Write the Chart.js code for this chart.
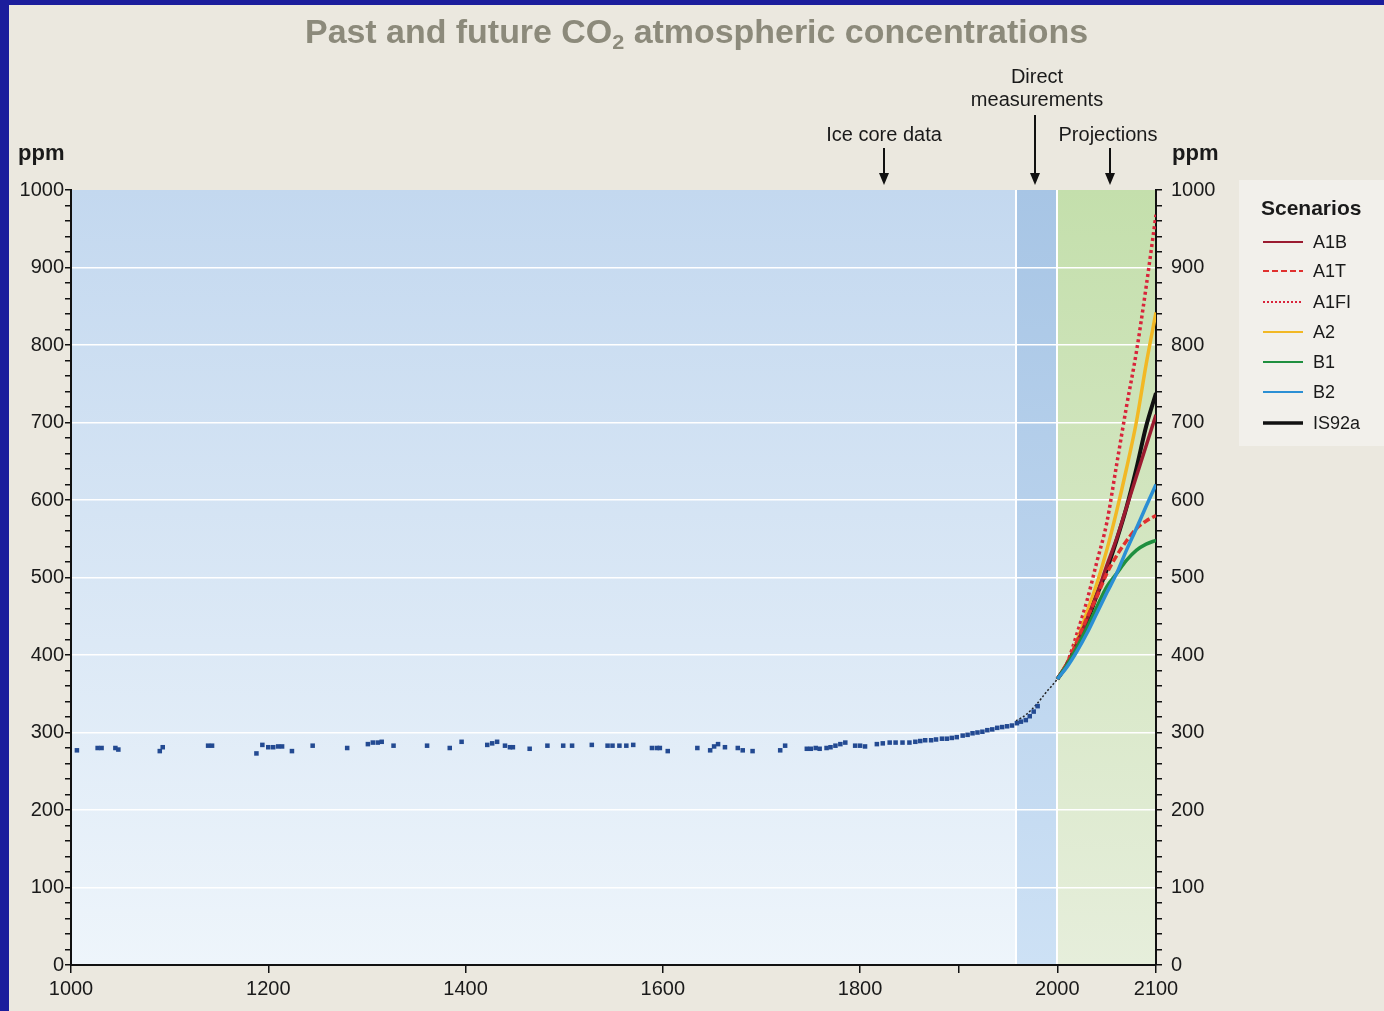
<!DOCTYPE html>
<html>
<head>
<meta charset="utf-8">
<title>Past and future CO2 atmospheric concentrations</title>
<script src="https://cdn.jsdelivr.net/npm/chart.js@4.4.1/dist/chart.umd.min.js"></script>
<style>
  html, body { margin: 0; padding: 0; background: #1b1d9c; overflow: hidden; }
  canvas { display: block; }
</style>
</head>
<body>
<canvas id="co2Chart" width="1384" height="1011"></canvas>
<script>
// ice core samples (year, ppm)
const iceYears = [1006, 1027, 1031, 1045, 1048, 1090, 1093, 1139, 1143, 1188, 1194, 1200, 1205, 1210, 1214, 1224,
  1245, 1280, 1301, 1306, 1311, 1315, 1327, 1361, 1384, 1396, 1422, 1427, 1432, 1440, 1445, 1448, 1465, 1483,
  1499, 1508, 1528, 1544, 1549, 1556, 1563, 1570, 1589, 1594, 1597, 1605, 1635, 1648, 1652, 1656, 1663, 1676,
  1681, 1691, 1719, 1724, 1746, 1750, 1755, 1759, 1766, 1770, 1775, 1780, 1785, 1795, 1800, 1805, 1817, 1823,
  1830, 1836, 1843, 1850, 1856, 1861, 1866, 1872, 1877, 1883, 1888, 1893, 1898, 1904, 1909, 1914, 1919, 1924,
  1929, 1934, 1939, 1944, 1949, 1954, 1959, 1963, 1968, 1972, 1976, 1980];
const icePpm = [277, 280, 280, 280, 278, 276, 281, 283, 283, 273, 284, 281, 281, 282, 282, 276,
  283, 280, 285, 287, 287, 288, 283, 283, 280, 288, 284, 286, 288, 283, 281, 281, 279, 283,
  283, 283, 284, 283, 283, 283, 283, 284, 280, 280, 280, 276, 280, 277, 282, 285, 281, 280,
  277, 276, 277, 283, 279, 279, 280, 279, 280, 281, 283, 285, 287, 283, 283, 282, 285, 286,
  287, 287, 287, 287, 288, 289, 290, 290, 291, 292, 292, 293, 294, 296, 297, 299, 300, 301,
  303, 304, 306, 307, 308, 309, 312, 314, 316, 321, 327, 334];

// direct measurements
const directYears = [1958, 1965, 1970, 1975, 1980, 1985, 1990, 1995, 2000];
const directPpm = [315, 320, 325, 331, 338, 346, 354, 361, 369];

// scenario projections
const projYears = [2000, 2010, 2020, 2030, 2040, 2050, 2060, 2070, 2080, 2090, 2100];
const a1b   = [369, 389, 415, 446, 478, 515, 550, 590, 630, 670, 710];
const a1t   = [369, 390, 418, 448, 475, 505, 528, 547, 563, 573, 580];
const a1fi  = [369, 390, 428, 470, 520, 570, 645, 720, 790, 875, 968];
const a2    = [369, 388, 418, 455, 492, 535, 585, 640, 700, 775, 842];
const b1    = [369, 388, 410, 435, 462, 488, 505, 522, 535, 543, 548];
const b2    = [369, 385, 405, 428, 454, 480, 505, 535, 563, 592, 620];
const is92a = [369, 388, 414, 443, 477, 510, 548, 590, 640, 695, 738];

// axis ticks
const xTicks = [1000, 1200, 1400, 1600, 1800, 1900, 2000, 2100];
const yMax = 1000;

const FONT = "'Liberation Sans', Arial, sans-serif";

const toPoints = (xs, ys) => xs.map((x, i) => ({ x: x, y: ys[i] }));

// shaded periods behind the data
const bands = [
  { from: 1000, to: 1958, top: '#c3d8ef', bottom: '#eef5fb' },
  { from: 1958, to: 2000, top: '#a7c5e5', bottom: '#cde1f5' },
  { from: 2000, to: 2100, top: '#c4dfac', bottom: '#e6eedb' }
];

function scenario(label, values, color, width, dash) {
  return {
    label: label,
    data: toPoints(projYears, values),
    borderColor: color,
    backgroundColor: color,
    borderWidth: width,
    borderDash: dash,
    pointRadius: 0,
    cubicInterpolationMode: 'monotone',
    scenario: true
  };
}

const backgroundPlugin = {
  id: 'background',
  beforeDraw(chart) {
    const { ctx, chartArea: a, scales: { x } } = chart;
    ctx.save();
    ctx.fillStyle = '#1b1d9c';
    ctx.fillRect(0, 0, chart.width, chart.height);
    ctx.fillStyle = '#ebe8df';
    ctx.fillRect(9, 5, chart.width - 9, chart.height - 5);
    // legend panel
    ctx.fillStyle = '#f2f0eb';
    ctx.fillRect(1239, 180, chart.width - 1239, 266);

    bands.forEach(b => {
      const x0 = x.getPixelForValue(b.from);
      const x1 = x.getPixelForValue(b.to);
      const g = ctx.createLinearGradient(0, a.top, 0, a.bottom);
      g.addColorStop(0, b.top);
      g.addColorStop(1, b.bottom);
      ctx.fillStyle = g;
      ctx.fillRect(x0, a.top, x1 - x0, a.bottom - a.top);
    });
    // white separators between periods
    ctx.strokeStyle = '#ffffff';
    ctx.lineWidth = 2;
    [1958, 2000].forEach(v => {
      const px = Math.round(x.getPixelForValue(v));
      ctx.beginPath();
      ctx.moveTo(px, a.top);
      ctx.lineTo(px, a.bottom);
      ctx.stroke();
    });
    ctx.restore();
  }
};

function arrow(ctx, x, y0, y1) {
  ctx.beginPath();
  ctx.moveTo(x, y0);
  ctx.lineTo(x, y1 - 8);
  ctx.stroke();
  ctx.beginPath();
  ctx.moveTo(x - 5, y1 - 12);
  ctx.lineTo(x + 5, y1 - 12);
  ctx.lineTo(x, y1);
  ctx.closePath();
  ctx.fill();
}

const textPlugin = {
  id: 'texts',
  afterDraw(chart) {
    const { ctx, scales: { x } } = chart;
    ctx.save();

    // title, fitted to its width in the original
    const parts = [
      { t: 'Past and future CO', f: 'bold 33px ' + FONT, dy: 0 },
      { t: '2', f: 'bold 21px ' + FONT, dy: 6 },
      { t: ' atmospheric concentrations', f: 'bold 33px ' + FONT, dy: 0 }
    ];
    let total = 0;
    parts.forEach(p => { ctx.font = p.f; p.w = ctx.measureText(p.t).width; total += p.w; });
    ctx.save();
    ctx.translate(305, 0);
    ctx.scale(783 / total, 1);
    ctx.fillStyle = '#8c8a7b';
    ctx.textBaseline = 'alphabetic';
    let cx = 0;
    parts.forEach(p => { ctx.font = p.f; ctx.fillText(p.t, cx, 43 + p.dy); cx += p.w; });
    ctx.restore();

    // unit labels
    ctx.fillStyle = '#1a1a1a';
    ctx.font = 'bold 22px ' + FONT;
    ctx.textAlign = 'left';
    ctx.fillText('ppm', 18, 160);
    ctx.fillText('ppm', 1172, 160);

    // period annotations
    ctx.font = '20px ' + FONT;
    ctx.textAlign = 'center';
    ctx.fillText('Ice core data', 884, 141);
    ctx.fillText('Direct', 1037, 83);
    ctx.fillText('measurements', 1037, 106);
    ctx.fillText('Projections', 1108, 141);
    ctx.strokeStyle = '#111';
    ctx.fillStyle = '#111';
    ctx.lineWidth = 2;
    arrow(ctx, Math.round(x.getPixelForValue(1824)), 148, 185);
    arrow(ctx, Math.round(x.getPixelForValue(1977)), 115, 185);
    arrow(ctx, Math.round(x.getPixelForValue(2053)), 148, 185);

    // scenario legend
    ctx.textAlign = 'left';
    ctx.textBaseline = 'middle';
    ctx.fillStyle = '#1a1a1a';
    ctx.font = 'bold 21px ' + FONT;
    ctx.fillText('Scenarios', 1261, 209);
    ctx.font = '18px ' + FONT;
    const rows = [242, 271, 302, 332, 362, 392, 423];
    const byLabel = {};
    chart.data.datasets.forEach(d => { byLabel[d.label] = d; });
    legendOrder.forEach((name, i) => {
      const d = byLabel[name];
      const y = rows[i];
      ctx.save();
      ctx.strokeStyle = d.borderColor;
      ctx.lineWidth = name === 'IS92a' ? 3.5 : 2;
      ctx.setLineDash(name === 'A1T' ? [6, 3] : name === 'A1FI' ? [2, 2] : []);
      ctx.beginPath();
      ctx.moveTo(1263, y);
      ctx.lineTo(1303, y);
      ctx.stroke();
      ctx.restore();
      ctx.fillText(name, 1313, y + 1);
    });
    ctx.restore();
  }
};

const legendOrder = ['A1B', 'A1T', 'A1FI', 'A2', 'B1', 'B2', 'IS92a'];

const yTickOpts = {
  stepSize: 20,
  color: '#1a1a1a',
  font: { family: FONT, size: 20 },
  autoSkip: false,
  callback: v => (v % 100 === 0 ? String(v) : '')
};

new Chart(document.getElementById('co2Chart').getContext('2d'), {
  type: 'line',
  data: {
    datasets: [
      {
        label: 'Ice core data',
        data: toPoints(iceYears, icePpm),
        showLine: false,
        pointStyle: 'rect',
        pointRadius: 3.2,
        pointBorderWidth: 0,
        backgroundColor: '#234a92',
        borderColor: '#234a92'
      },
      scenario('B2', b2, '#2b8fd4', 3.5, []),
      scenario('B1', b1, '#1f8f3f', 3.5, []),
      scenario('A1T', a1t, '#e0302e', 3.5, [7, 3]),
      scenario('A1B', a1b, '#9b1b30', 3.5, []),
      scenario('IS92a', is92a, '#111111', 4, []),
      scenario('A2', a2, '#f2b824', 3.5, []),
      scenario('A1FI', a1fi, '#d9243a', 3.5, [3, 3]),
      {
        label: 'Direct measurements',
        data: toPoints(directYears, directPpm),
        borderColor: '#222',
        borderWidth: 1.5,
        borderDash: [2, 2],
        pointRadius: 0,
        tension: 0.3
      }
    ]
  },
  options: {
    responsive: false,
    animation: false,
    layout: { padding: { top: 190, left: 0, right: 0, bottom: 0 } },
    plugins: {
      legend: { display: false },
      tooltip: { enabled: false },
      title: { display: false }
    },
    scales: {
      x: {
        type: 'linear',
        min: 1000,
        max: 2100,
        afterBuildTicks: s => { s.ticks = xTicks.map(v => ({ value: v })); },
        afterFit: s => { s.height = 46; },
        ticks: {
          autoSkip: false,
          maxRotation: 0,
          padding: 4,
          color: '#1a1a1a',
          font: { family: FONT, size: 20 },
          callback: v => (v === 1900 ? '' : String(v))
        },
        grid: { drawOnChartArea: false, tickLength: 8, tickColor: '#111', lineWidth: 1.5 },
        border: { color: '#111', width: 2 }
      },
      y: {
        position: 'left',
        min: 0,
        max: yMax,
        afterFit: s => { s.width = 71; },
        ticks: Object.assign({ padding: 1 }, yTickOpts),
        grid: {
          color: c => (c.tick && c.tick.value % 100 === 0 && c.tick.value > 0 && c.tick.value < yMax ? '#ffffff' : 'rgba(0,0,0,0)'),
          lineWidth: 1.5,
          tickColor: '#111',
          tickLength: 6
        },
        border: { color: '#111', width: 2 }
      },
      yRight: {
        position: 'right',
        min: 0,
        max: yMax,
        afterFit: s => { s.width = 228; },
        ticks: Object.assign({ padding: 9 }, yTickOpts),
        grid: { drawOnChartArea: false, tickColor: '#111', tickLength: 6, lineWidth: 1.5 },
        border: { color: '#111', width: 2 }
      }
    }
  },
  plugins: [backgroundPlugin, textPlugin]
});
</script>
</body>
</html>
